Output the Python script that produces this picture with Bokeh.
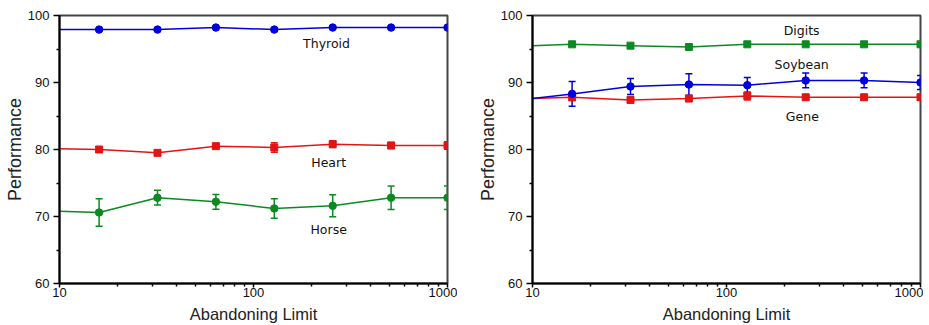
from bokeh.plotting import figure
from bokeh.layouts import row
from bokeh.models import FixedTicker, ColumnDataSource, Whisker, TeeHead
from bokeh.core.properties import value
from bokeh.embed import file_html
from bokeh.resources import INLINE

# ---- data ----
limits = [16, 32, 64, 128, 256, 512, 1000]
line_start_x = 10

thyroid = [97.9, 97.9, 98.2, 97.9, 98.2, 98.2, 98.2]
thyroid_err = [0.0, 0.0, 0.0, 0.0, 0.0, 0.0, 0.0]
thyroid_start = 97.9

heart = [80.0, 79.5, 80.5, 80.3, 80.8, 80.6, 80.6]
heart_err = [0.4, 0.2, 0.2, 0.7, 0.5, 0.45, 0.55]
heart_start = 80.1

horse = [70.6, 72.8, 72.2, 71.2, 71.6, 72.8, 72.8]
horse_err = [2.05, 1.1, 1.1, 1.45, 1.65, 1.75, 1.75]
horse_start = 70.8

digits = [95.7, 95.5, 95.3, 95.7, 95.7, 95.7, 95.7]
digits_err = [0.0, 0.25, 0.15, 0.0, 0.0, 0.0, 0.0]
digits_start = 95.5

soybean = [88.3, 89.4, 89.7, 89.6, 90.3, 90.3, 90.0]
soybean_err = [1.85, 1.2, 1.6, 1.15, 1.1, 1.1, 1.05]
soybean_start = 87.6

gene = [87.8, 87.4, 87.6, 88.0, 87.8, 87.8, 87.8]
gene_err = [0.5, 0.4, 0.2, 0.6, 0.35, 0.35, 0.4]
gene_start = 87.6

x_ticks = [10, 100, 1000]
x_minor = [20, 30, 40, 50, 60, 70, 80, 90, 200, 300, 400, 500, 600, 700, 800, 900]
y_ticks = [60, 70, 80, 90, 100]
y_minor = [65, 75, 85, 95]

# label anchors (data coordinates)
left_labels = ["Thyroid", "Heart", "Horse"]
left_label_x = [238, 244, 244]
left_label_y = [95.8, 78.1, 68.0]
right_labels = ["Digits", "Soybean", "Gene"]
right_label_x = [244, 244, 246]
right_label_y = [97.8, 92.7, 85.0]

BLUE = "#0000dd"
RED = "#e41414"
GREEN = "#0c8a22"


def make_fig(width, border_left, border_right):
    p = figure(width=width, height=325, x_axis_type="log", x_range=(10, 1000),
               y_range=(60, 100), output_backend="svg", toolbar_location=None,
               min_border_left=border_left, min_border_right=border_right,
               min_border_top=15, min_border_bottom=41)
    p.grid.visible = False
    p.background_fill_color = "white"
    p.border_fill_color = "white"
    p.outline_line_color = "#444444"
    p.outline_line_width = 2
    p.xaxis.ticker = FixedTicker(ticks=x_ticks, minor_ticks=x_minor)
    p.yaxis.ticker = FixedTicker(ticks=y_ticks, minor_ticks=y_minor)
    p.xaxis.major_label_overrides = {t: str(t) for t in x_ticks}
    for ax in (p.xaxis[0], p.yaxis[0]):
        ax.axis_line_width = 2
        ax.axis_line_color = "black"
        ax.major_tick_line_color = "black"
        ax.minor_tick_line_color = "black"
        ax.major_tick_line_width = 1.5
        ax.minor_tick_line_width = 1.5
        ax.major_tick_in = 0
        ax.minor_tick_in = 0
        ax.minor_tick_out = 3
        ax.major_label_text_font = "Liberation Sans"
        ax.major_label_text_font_size = "13px"
        ax.major_label_text_color = "#111111"
        ax.axis_label_text_font = "Liberation Sans"
        ax.axis_label_text_font_style = "normal"
        ax.axis_label_text_color = "#222222"
    p.xaxis.major_tick_out = 4
    p.xaxis.major_label_standoff = 0
    p.xaxis.axis_label = "Abandoning Limit"
    p.xaxis.axis_label_text_font_size = "16.5px"
    p.xaxis.axis_label_standoff = 5
    p.xaxis.axis_label_text_line_height = 0.8
    p.yaxis.major_tick_out = 6
    p.yaxis.major_label_standoff = 4
    p.yaxis.axis_label = "Performance"
    p.yaxis.axis_label_text_font_size = "18px"
    p.yaxis.axis_label_standoff = 0
    return p


def add_series(p, vals, errs, start, color, marker):
    xs = [line_start_x] + limits
    ys = [start] + vals
    p.line(xs, ys, line_color=color, line_width=1.5)
    lo = [v - e for v, e in zip(vals, errs)]
    hi = [v + e for v, e in zip(vals, errs)]
    src = ColumnDataSource(dict(x=limits, y=vals, lo=lo, hi=hi))
    if any(e > 0 for e in errs):
        w = Whisker(source=src, base="x", lower="lo", upper="hi",
                    line_color=color, line_width=1.5,
                    upper_head=TeeHead(size=7, line_color=color, line_width=1.5),
                    lower_head=TeeHead(size=7, line_color=color, line_width=1.5))
        p.add_layout(w)
    if marker == "square":
        p.scatter("x", "y", source=src, marker="square", size=7,
                  fill_color=color, line_color=color)
    else:
        p.scatter("x", "y", source=src, marker="circle", size=7.5,
                  fill_color=color, line_color=color)


def add_labels(p, labels, lx, ly):
    p.text(x=lx, y=ly, text=labels, text_font=value("DejaVu Sans"),
           text_font_size="12.5px", text_color="#111111",
           text_align="center", text_baseline="middle")


p1 = make_fig(457, 59, 10)
add_series(p1, thyroid, thyroid_err, thyroid_start, BLUE, "circle")
add_series(p1, heart, heart_err, heart_start, RED, "square")
add_series(p1, horse, horse_err, horse_start, GREEN, "circle")
add_labels(p1, left_labels, left_label_x, left_label_y)

p2 = make_fig(466, 75, 3)
add_series(p2, digits, digits_err, digits_start, GREEN, "square")
add_series(p2, gene, gene_err, gene_start, RED, "square")
add_series(p2, soybean, soybean_err, soybean_start, BLUE, "circle")
add_labels(p2, right_labels, right_label_x, right_label_y)

layout = row(p1, p2, spacing=0)
open("out.html", "w").write(file_html(layout, INLINE))
